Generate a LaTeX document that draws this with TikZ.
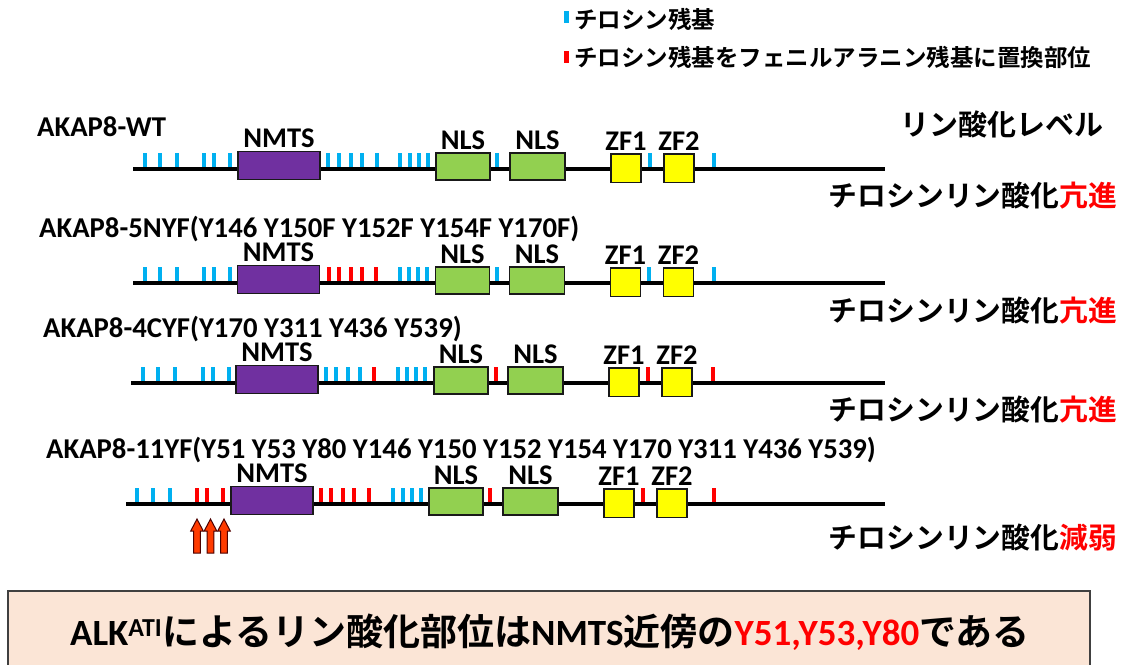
\documentclass[tikz,border=0pt]{standalone}
\usepackage{fontspec}
\usepackage{graphicx}
\setmainfont{Carlito}
\newfontfamily\jp{Noto Sans CJK JP}[BoldFont={Noto Sans CJK JP Bold}]
\definecolor{tyr}{HTML}{00B0F0}
\definecolor{phe}{HTML}{FF0000}
\definecolor{nmtsc}{HTML}{7030A0}
\definecolor{nlsc}{HTML}{92D050}
\definecolor{zfc}{HTML}{FFFF00}
\definecolor{arrc}{HTML}{FF3B00}
\definecolor{boxc}{HTML}{FBE5D6}
\tikzset{
  dom/.style={draw=black!90, line width=1.3pt, inner sep=0pt},
  lbl/.style={font=\fontsize{28.5}{30}\selectfont\bfseries, anchor=base, inner sep=0pt},
  rowtitle/.style={font=\fontsize{28.7}{30}\selectfont\bfseries, anchor=base west, inner sep=0pt},
  status/.style={font=\jp\fontsize{28.8}{30}\selectfont\bfseries, anchor=east, inner sep=0pt},
  legtext/.style={font=\jp\fontsize{23.5}{26}\selectfont\bfseries, anchor=west, inner sep=0pt},
  backbone/.style={line width=3.2pt, black},
  uparrow/.style={fill=arrc, draw=black!70!red, line width=1pt, line join=miter},
}
\newcommand\dombox[6]{\node[dom, fill=#2, minimum width={(#4)-(#3)}, minimum height={(#6)-(#5)}] (#1) at ({((#3)+(#4))/2},{((#5)+(#6))/2}) {};}
\newcommand\domlabel[2]{\node[lbl] (#1l) at ([yshift=3pt]#1.north) {#2};}
\newcommand\res[3]{\fill[#1] ({#2-2.4},{#3-16}) rectangle ({#2+2.4},{#3-2.5});}
\newcommand\domrow[3]{%
  \dombox{nmts#1}{nmtsc}{238+(#3)}{320+(#3)}{#2-17.5}{#2+10.5}
  \dombox{nlsa#1}{nlsc}{436+(#3)}{490+(#3)}{#2-16}{#2+11}
  \dombox{nlsb#1}{nlsc}{510+(#3)}{565+(#3)}{#2-16}{#2+11}
  \dombox{zfa#1}{zfc}{611+(#3)}{641+(#3)}{#2-15}{#2+13.5}
  \dombox{zfb#1}{zfc}{664+(#3)}{694+(#3)}{#2-15}{#2+13.5}
  \domlabel{nmts#1}{NMTS}
  \domlabel{nlsa#1}{NLS}
  \domlabel{nlsb#1}{NLS}
  \domlabel{zfa#1}{ZF1}
  \domlabel{zfb#1}{ZF2}
}
\newcommand\uparr[1]{\draw[uparrow] ({#1-3.3},553) -- ({#1-3.3},531) -- ({#1-6.3},531) -- (#1,519) -- ({#1+6.3},531) -- ({#1+3.3},531) -- ({#1+3.3},553) -- cycle;}
\begin{document}
\begin{tikzpicture}[x=1pt,y=-1pt]
\useasboundingbox (0,0) rectangle (1123,664);
\clip (0,0) rectangle (1123,664);
\fill[white] (0,0) rectangle (1123,664);

% legend
\fill[tyr] (564,11) rectangle (568.5,23);
\node[legtext] (leg1) at (574,19) {チロシン残基};
\fill[phe] (564,51) rectangle (568.5,63);
\node[legtext] (leg2) at (574,57) {チロシン残基をフェニルアラニン残基に置換部位};

\node[font=\jp\fontsize{29}{30}\selectfont\bfseries, anchor=west, inner sep=0pt] (level) at (900,124) {リン酸化レベル};

% row 1 : WT
\node[rowtitle] (t1) at (37,136) {AKAP8-WT};
\coordinate (r1a) at (133,169); \coordinate (r1b) at (885,169);
\draw[backbone] (r1a) -- (r1b);
\foreach \t in {145,160,177,204,214,230,328,339,351,362,377,400,410,419,428,497,650,714} {\res{tyr}{\t}{169}}
\domrow{1}{169}{0}
\node[status] (s1) at (1117,196) {チロシンリン酸化\textcolor{phe}{亢進}};

% row 2 : 5NYF
\node[rowtitle] (t2) at (39,237) {AKAP8-5NYF(Y146 Y150F Y152F Y154F Y170F)};
\coordinate (r2a) at (133,283); \coordinate (r2b) at (885,283);
\draw[backbone] (r2a) -- (r2b);
\foreach \t in {145,160,177,204,214,230,400,409,418,427,497,649,714} {\res{tyr}{\t}{283}}
\foreach \t in {329,339,351,362,376} {\res{phe}{\t}{283}}
\domrow{2}{283}{-0.5}
\node[status] (s2) at (1117,311) {チロシンリン酸化\textcolor{phe}{亢進}};

% row 3 : 4CYF
\node[rowtitle] (t3) at (43,337) {AKAP8-4CYF(Y170 Y311 Y436 Y539)};
\coordinate (r3a) at (131,383); \coordinate (r3b) at (885,383);
\draw[backbone] (r3a) -- (r3b);
\foreach \t in {143,158,175,203,213,229,326,336,348,360,398,407,416,425} {\res{tyr}{\t}{383}}
\foreach \t in {374,496,648,713} {\res{phe}{\t}{383}}
\domrow{3}{383}{-2}
\node[status] (s3) at (1117,410) {チロシンリン酸化\textcolor{phe}{亢進}};

% row 4 : 11YF
\node[rowtitle] (t4) at (46,458) {AKAP8-11YF(Y51 Y53 Y80 Y146 Y150 Y152 Y154 Y170 Y311 Y436 Y539)};
\coordinate (r4a) at (126,504); \coordinate (r4b) at (885,504);
\draw[backbone] (r4a) -- (r4b);
\foreach \t in {137,153,170,393,403,412,421} {\res{tyr}{\t}{504}}
\foreach \t in {197,207,223,321,331,343,354,369,490,643,714} {\res{phe}{\t}{504}}
\domrow{4}{504}{-7}
\node[status] (s4) at (1117,537) {チロシンリン酸化\textcolor{phe}{減弱}};
\uparr{197}\uparr{210.5}\uparr{224}

% conclusion box
\node[draw=black!75, line width=1.3pt, fill=boxc, minimum width=1082pt, minimum height=100pt, inner sep=0pt] (concl) at (549,641) {};
\node[font=\fontsize{37}{40}\selectfont\bfseries, inner sep=0pt] (concltext) at (550,632) {ALK\textsuperscript{ATI}{\jp によるリン酸化部位は}NMTS{\jp 近傍の}\textcolor{phe}{Y51,Y53,Y80}{\jp である}};
\end{tikzpicture}
\end{document}
